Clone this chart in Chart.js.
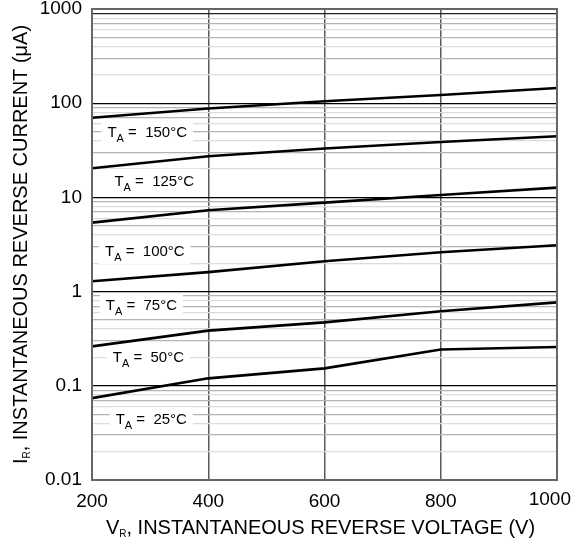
<!DOCTYPE html>
<html>
<head>
<meta charset="utf-8">
<script src="https://cdn.jsdelivr.net/npm/chart.js@4/dist/chart.umd.min.js"></script>
<style>
  html, body { margin: 0; padding: 0; background: #fff; }
  #wrap { width: 576px; height: 543px; }
</style>
</head>
<body>
<div id="wrap"><canvas id="irChart" width="576" height="543"></canvas></div>
<script>
// reverse voltage (V)
var voltage = [200, 400, 600, 800, 1000];
// reverse current (uA) per junction temperature
var ir25  = [0.074, 0.12, 0.153, 0.243, 0.258];
var ir50  = [0.262, 0.385, 0.471, 0.618, 0.769];
var ir75  = [1.29, 1.61, 2.10, 2.62, 3.11];
var ir100 = [5.4, 7.3, 8.8, 10.6, 12.7];
var ir125 = [20.4, 27.3, 33, 38.7, 44.6];
var ir150 = [70, 88, 105, 122, 145];
var tempLabels = ['150', '125', '100', '75', '50', '25'];
var xTicks = [200, 400, 600, 800, 1000];
var xTickLabels = ['200', '400', '600', '800', '1000'];
var yDecades = [0.01, 0.1, 1, 10, 100, 1000];
var yTickLabels = ['0.01', '0.1', '1', '10', '100', '1000'];

// where the T_A captions sit (data space)
var captionAt = [
  {x: 295, y: 50}, {x: 307, y: 15}, {x: 291, y: 2.7},
  {x: 285, y: 0.72}, {x: 297, y: 0.2}, {x: 302, y: 0.044}
];

var FONT = '"Liberation Sans", Arial, Helvetica, sans-serif';

function pts(ys) {
  return voltage.map(function (v, i) { return {x: v, y: ys[i]}; });
}

function isDecade(v) {
  var l = Math.log10(v);
  return Math.abs(l - Math.round(l)) < 1e-6;
}

var series = [ir150, ir125, ir100, ir75, ir50, ir25];
var datasets = series.map(function (s, i) {
  return {
    label: tempLabels[i],
    data: pts(s),
    borderColor: '#000',
    borderWidth: 2.6,
    pointRadius: 0,
    showLine: true,
    tension: 0
  };
});

// draws text with a subscript part: parts = [[text, size, dy], ...]
function drawParts(ctx, parts, x, y) {
  parts.forEach(function (p) {
    ctx.font = p[1] + 'px ' + FONT;
    ctx.fillText(p[0], x, y + p[2]);
    x += ctx.measureText(p[0]).width;
  });
}
function partsWidth(ctx, parts) {
  var w = 0;
  parts.forEach(function (p) {
    ctx.font = p[1] + 'px ' + FONT;
    w += ctx.measureText(p[0]).width;
  });
  return w;
}

var decor = {
  id: 'decor',
  beforeDatasetsDraw: function (chart) {
    var ctx = chart.ctx, xs = chart.scales.x, ys = chart.scales.y;
    ctx.save();
    ctx.textBaseline = 'alphabetic';
    captionAt.forEach(function (c, i) {
      var parts = [['T', 15, 0], ['A', 11, 5], [' =  ' + tempLabels[i] + '\u00b0C', 15, 0]];
      var w = partsWidth(ctx, parts);
      var cx = xs.getPixelForValue(c.x), cy = ys.getPixelForValue(c.y);
      ctx.fillStyle = '#fff';
      ctx.fillRect(cx - w / 2 - 6, cy - 12, w + 12, 25);
      ctx.fillStyle = '#000';
      drawParts(ctx, parts, cx - w / 2, cy + 5);
    });
    ctx.restore();
  },
  afterDraw: function (chart) {
    var ctx = chart.ctx, a = chart.chartArea, xs = chart.scales.x;
    ctx.save();
    ctx.strokeStyle = '#666';
    ctx.lineWidth = 2;
    ctx.strokeRect(a.left, a.top, a.right - a.left, a.bottom - a.top);

    ctx.fillStyle = '#000';
    // last x tick label, pulled in so it stays on the canvas
    var last = xTicks.length - 1;
    ctx.font = '19px ' + FONT;
    ctx.textAlign = 'right';
    ctx.textBaseline = 'top';
    ctx.fillText(xTickLabels[last], Math.min(xs.getPixelForValue(xTicks[last]) + 14, chart.width - 5), a.bottom + 10);

    ctx.textAlign = 'left';
    ctx.textBaseline = 'alphabetic';
    var xt = [['V', 20, 0], ['R', 10, 3], [', INSTANTANEOUS REVERSE VOLTAGE (V)', 20, 0]];
    var w = partsWidth(ctx, xt);
    drawParts(ctx, xt, (a.left + a.right) / 2 - w / 2 - 4, 534);

    var yt = [['I', 20, 0], ['R', 10, 3], [', INSTANTANEOUS REVERSE CURRENT (\u03bcA)', 20, 0]];
    w = partsWidth(ctx, yt);
    ctx.translate(27, (a.top + a.bottom) / 2);
    ctx.rotate(-Math.PI / 2);
    drawParts(ctx, yt, -w / 2, 0);
    ctx.restore();
  }
};

new Chart(document.getElementById('irChart').getContext('2d'), {
  type: 'scatter',
  data: { datasets: datasets },
  plugins: [decor],
  options: {
    responsive: false,
    animation: false,
    events: [],
    layout: { padding: { left: 0, right: 19, top: 9, bottom: 0 } },
    plugins: { legend: { display: false }, tooltip: { enabled: false } },
    scales: {
      x: {
        type: 'linear',
        min: 200, max: 1000,
        afterBuildTicks: function (s) {
          s.ticks = xTicks.map(function (v) { return {value: v}; });
        },
        afterFit: function (s) {
          s.height = 63;
          s.paddingLeft = 0; s.paddingRight = 0;
        },
        border: { display: false },
        grid: {
          drawTicks: false,
          color: '#5a5a5a',
          lineWidth: function (c) {
            var v = c.tick && c.tick.value;
            return (v === 200 || v === 1000) ? 0 : 1.5;
          }
        },
        ticks: {
          padding: 10,
          color: '#000',
          font: { family: FONT, size: 19 },
          maxRotation: 0,
          autoSkip: false,
          callback: function (v) {
            var idx = xTicks.indexOf(v);
            // the last label is drawn by the decor plugin
            return (idx >= 0 && idx < xTicks.length - 1) ? xTickLabels[idx] : '';
          }
        }
      },
      y: {
        type: 'logarithmic',
        min: 0.01, max: 1000,
        afterBuildTicks: function (s) {
          var t = [];
          yDecades.forEach(function (d, i) {
            if (i === yDecades.length - 1) { t.push({value: d}); return; }
            for (var k = 1; k <= 9; k++) t.push({value: +(d * k).toPrecision(6)});
          });
          s.ticks = t;
        },
        afterFit: function (s) {
          s.width = 92;
          s.paddingTop = 0; s.paddingBottom = 0;
        },
        border: { display: false },
        grid: {
          drawTicks: false,
          color: function (c) {
            var v = c.tick && c.tick.value;
            if (v === undefined) return '#ccc';
            if (isDecade(v)) return '#000';
            var k = Math.round(v / Math.pow(10, Math.floor(Math.log10(v) + 1e-9)));
            if (k === 9 && v > 100) return '#222';
            return (k % 2 === 0) ? '#dcdcdc' : '#b4b4b4';
          },
          lineWidth: function (c) {
            var v = c.tick && c.tick.value;
            return (v !== undefined && isDecade(v)) ? 1.3 : 1.2;
          }
        },
        ticks: {
          padding: 10,
          color: '#000',
          autoSkip: false,
          font: { family: FONT, size: 19 },
          callback: function (v) {
            if (!isDecade(v)) return '';
            var idx = yDecades.findIndex(function (d) { return Math.abs(d - v) / d < 1e-6; });
            return idx >= 0 ? yTickLabels[idx] : '';
          }
        }
      }
    }
  }
});
</script>
</body>
</html>
